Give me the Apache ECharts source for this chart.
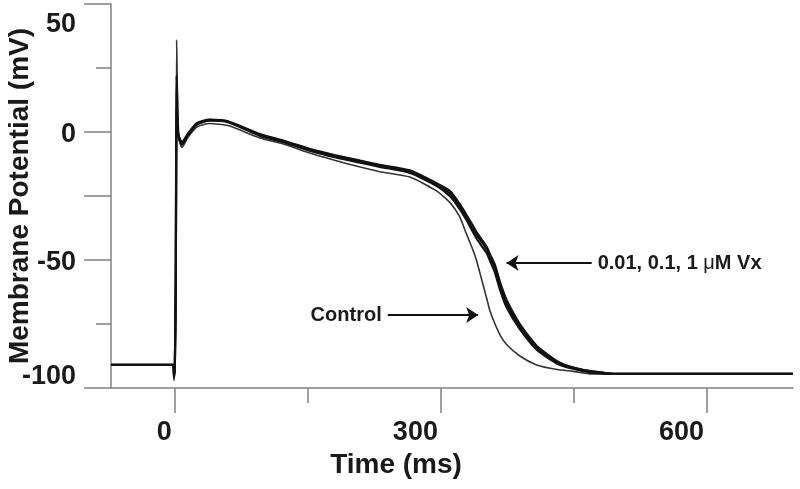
<!DOCTYPE html>
<html>
<head>
<meta charset="utf-8">
<script src="https://cdn.jsdelivr.net/npm/echarts@6/dist/echarts.min.js"></script>
<style>html,body{margin:0;padding:0;background:#fff}#c{width:800px;height:489px}</style>
</head>
<body>
<div id="c"></div>
<script>
// Time points (ms)
var time = [-72, -2, -1, 0, 1, 2, 4, 8, 15, 25, 39, 60, 96, 125, 152, 180, 209, 231, 265, 295, 310, 321, 329, 336, 340, 347, 352, 355, 361, 367, 374, 389, 408, 431, 449, 470, 500, 550, 600, 650, 697];
// Membrane potential (mV)
var control = [-91, -91, -97, -91, -60, 36, -2, -6, -2, 2, 3.3, 2.5, -2.3, -5, -8.2, -11, -13.7, -15.5, -17.6, -23, -27.5, -33, -40, -46, -50, -59, -65.5, -69.5, -75, -79.5, -83, -87.5, -91, -92.8, -93.5, -94.5, -94.5, -94.5, -94.5, -94.5, -94.5];
var vx001 = [-91, -91, -96, -91, -60, 22, -1, -5, -1, 3, 4.7, 4, -1.2, -4, -7, -9.5, -11.7, -13.3, -15.6, -20.5, -24, -29, -33.5, -38, -40, -43.5, -46, -48.5, -53, -60.5, -67, -76, -84, -90, -92, -93.5, -94.5, -94.5, -94.5, -94.5, -94.5];
var vx01 = [-91, -91, -95, -91, -60, 9, -1, -4, -0.5, 3.5, 4.8, 4.2, -0.8, -3.6, -6.6, -9, -11.2, -12.8, -15, -20, -23, -28, -32.5, -36.5, -39, -42.5, -45, -47.5, -52, -59, -65.5, -75, -83.5, -89.5, -92, -93.5, -94.5, -94.5, -94.5, -94.5, -94.5];
var vx1 = [-91, -91, -95, -91, -60, 4, -1.5, -4.5, -1, 3, 4.4, 3.8, -1.5, -4.3, -7.3, -9.8, -12, -13.6, -16, -21, -25, -30, -34.5, -39, -41.5, -45, -47.5, -50, -55, -62, -68.5, -77, -85, -90.5, -92.5, -94, -94.5, -94.5, -94.5, -94.5, -94.5];
var yLongTicks = [50, 0, -25, -50, -100];
var yShortTicks = [25, -75];
var xLongTicks = [0, 300, 600];
var xShortTicks = [150, 450];
var yLabelValues = [50, 0, -50, -100];

function pairs(vals) { return time.map(function (t, i) { return [t, vals[i]]; }); }

var FONT = '"Liberation Sans", Arial, Helvetica, sans-serif';
var TXT = '#1a1a1a';
var AX = '#808080';

var chart = echarts.init(document.getElementById('c'), null, { renderer: 'canvas' });
var lbl = { fontSize: 27, fontWeight: 'bold', fontFamily: FONT, color: TXT };
chart.setOption({
  animation: false,
  grid: { left: 111, right: 7, top: 4, bottom: 101, containLabel: false, outerBoundsMode: 'none' },
  xAxis: [{
    type: 'value', min: -72, max: 697,
    name: 'Time (ms)', nameLocation: 'middle', nameGap: 63, nameMoveOverlap: false,
    nameTextStyle: { fontSize: 28, fontWeight: 'bold', fontFamily: FONT, color: TXT, padding: [0, 112, 0, 0] },
    axisLine: { show: true, onZero: false, lineStyle: { color: AX, width: 1.5 } },
    axisTick: { show: true, inside: false, length: 25, customValues: xLongTicks, lineStyle: { color: AX, width: 1.5 } },
    axisLabel: { customValues: xLongTicks, align: 'right', margin: 31, padding: [0, 3, 0, 0], fontSize: 27, fontWeight: 'bold', fontFamily: FONT, color: TXT },
    splitLine: { show: false }
  }, {
    type: 'value', min: -72, max: 697, position: 'bottom',
    axisLine: { show: false, onZero: false },
    axisTick: { show: true, length: 15, customValues: xShortTicks, lineStyle: { color: AX, width: 1.5 } },
    axisLabel: { show: false },
    splitLine: { show: false }
  }],
  yAxis: [{
    type: 'value', min: -100, max: 50, interval: 25,
    name: 'Membrane Potential (mV)', nameLocation: 'middle', nameGap: 77, nameMoveOverlap: false,
    nameTextStyle: { fontSize: 28, fontWeight: 'bold', fontFamily: FONT, color: TXT },
    axisLine: { show: true, onZero: false, lineStyle: { color: AX, width: 1.5 } },
    axisTick: { show: true, length: 27, customValues: yLongTicks, lineStyle: { color: AX, width: 1.5 } },
    axisLabel: {
      customValues: yLabelValues, margin: 35,
      fontSize: 27, fontWeight: 'bold', fontFamily: FONT, color: TXT,
      formatter: function (v) {
        if (v === 50) return '{a|50}';
        if (v === -100) return '{c|-100}';
        return '{b|' + v + '}';
      },
      rich: {
        a: Object.assign({ padding: [42, 0, 0, 0] }, lbl),
        b: Object.assign({ padding: [6, 0, 0, 0] }, lbl),
        c: Object.assign({ padding: [0, 0, 22, 0] }, lbl)
      }
    },
    splitLine: { show: false }
  }, {
    type: 'value', min: -100, max: 50, interval: 25, position: 'left',
    axisLine: { show: false, onZero: false },
    axisTick: { show: true, length: 15, customValues: yShortTicks, lineStyle: { color: AX, width: 1.5 } },
    axisLabel: { show: false },
    splitLine: { show: false }
  }],
  series: [
    { name: 'Control', type: 'line', data: pairs(control), symbol: 'none', smooth: 0.2, lineStyle: { color: '#333', width: 1.6 }, z: 3,
      markLine: {
        silent: true, symbol: ['none', 'arrow'], symbolSize: 12,
        lineStyle: { color: '#111', width: 2, type: 'solid' },
        label: { show: true, position: 'start', distance: 6, fontSize: 20, fontWeight: 'bold', fontFamily: FONT, color: TXT,
          formatter: function (p) { return p.name; },
          rich: { mu: { fontSize: 20, fontWeight: 'normal', fontFamily: FONT, color: TXT } } },
        data: [
          [{ name: 'Control', coord: [240, -71.5] }, { coord: [342, -71.5] }],
          [{ name: '0.01, 0.1, 1 {mu|μ}M Vx', coord: [470, -51.2] }, { coord: [374, -51.2] }]
        ]
      }
    },
    { name: '0.01 μM Vx', type: 'line', data: pairs(vx001), symbol: 'none', smooth: 0.2, lineStyle: { color: '#111', width: 2.2 }, z: 4 },
    { name: '0.1 μM Vx', type: 'line', data: pairs(vx01), symbol: 'none', smooth: 0.2, lineStyle: { color: '#111', width: 2.2 }, z: 4 },
    { name: '1 μM Vx', type: 'line', data: pairs(vx1), symbol: 'none', smooth: 0.2, lineStyle: { color: '#111', width: 2.2 }, z: 4 }
  ]
});
</script>
</body>
</html>
